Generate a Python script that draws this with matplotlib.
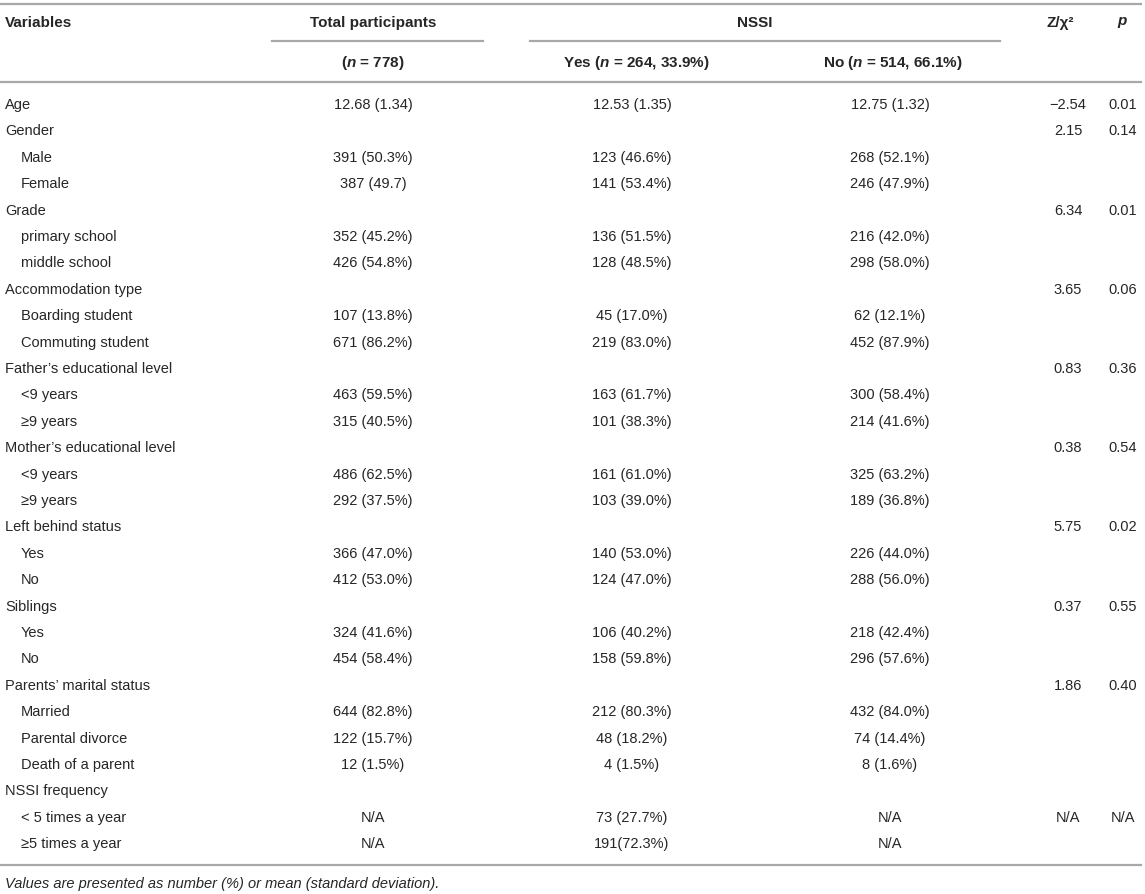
import matplotlib.pyplot as plt

plt.rcParams['font.family'] = ['Liberation Sans', 'DejaVu Sans']
plt.rcParams['mathtext.fontset'] = 'custom'
plt.rcParams['mathtext.it'] = 'Liberation Sans:italic:bold'
plt.rcParams['mathtext.rm'] = 'Liberation Sans:bold'

# table content
labels = ["Age", "Gender", "Male", "Female", "Grade", "primary school", "middle school",
          "Accommodation type", "Boarding student", "Commuting student",
          "Father\u2019s educational level", "<9 years", "\u22659 years",
          "Mother\u2019s educational level", "<9 years", "\u22659 years",
          "Left behind status", "Yes", "No", "Siblings", "Yes", "No",
          "Parents\u2019 marital status", "Married", "Parental divorce", "Death of a parent",
          "NSSI frequency", "< 5 times a year", "\u22655 times a year"]
sub_row = [0, 0, 1, 1, 0, 1, 1, 0, 1, 1, 0, 1, 1, 0, 1, 1, 0, 1, 1, 0, 1, 1, 0, 1, 1, 1, 0, 1, 1]

total = ["12.68 (1.34)", "", "391 (50.3%)", "387 (49.7)", "", "352 (45.2%)", "426 (54.8%)",
         "", "107 (13.8%)", "671 (86.2%)", "", "463 (59.5%)", "315 (40.5%)",
         "", "486 (62.5%)", "292 (37.5%)", "", "366 (47.0%)", "412 (53.0%)",
         "", "324 (41.6%)", "454 (58.4%)", "", "644 (82.8%)", "122 (15.7%)", "12 (1.5%)",
         "", "N/A", "N/A"]
nssi_yes = ["12.53 (1.35)", "", "123 (46.6%)", "141 (53.4%)", "", "136 (51.5%)", "128 (48.5%)",
            "", "45 (17.0%)", "219 (83.0%)", "", "163 (61.7%)", "101 (38.3%)",
            "", "161 (61.0%)", "103 (39.0%)", "", "140 (53.0%)", "124 (47.0%)",
            "", "106 (40.2%)", "158 (59.8%)", "", "212 (80.3%)", "48 (18.2%)", "4 (1.5%)",
            "", "73 (27.7%)", "191(72.3%)"]
nssi_no = ["12.75 (1.32)", "", "268 (52.1%)", "246 (47.9%)", "", "216 (42.0%)", "298 (58.0%)",
           "", "62 (12.1%)", "452 (87.9%)", "", "300 (58.4%)", "214 (41.6%)",
           "", "325 (63.2%)", "189 (36.8%)", "", "226 (44.0%)", "288 (56.0%)",
           "", "218 (42.4%)", "296 (57.6%)", "", "432 (84.0%)", "74 (14.4%)", "8 (1.6%)",
           "", "N/A", "N/A"]
z_chi = ["\u22122.54", "2.15", "", "", "6.34", "", "", "3.65", "", "", "0.83", "", "",
         "0.38", "", "", "5.75", "", "", "0.37", "", "", "1.86", "", "", "", "", "N/A", ""]
p_val = ["0.01", "0.14", "", "", "0.01", "", "", "0.06", "", "", "0.36", "", "",
         "0.54", "", "", "0.02", "", "", "0.55", "", "", "0.40", "", "", "", "", "N/A", ""]

footnote = "Values are presented as number (%) or mean (standard deviation)."

# ---------------------------------------------------------------------------
W, H = 1145, 894
fig = plt.figure(figsize=(W / 100, H / 100), dpi=100)
ax = fig.add_axes([0, 0, 1, 1])
ax.set_xlim(0, W)
ax.set_ylim(H, 0)
ax.axis('off')

txt_color = '#262626'
line_color = '#a8a8a8'
fs = 10.5
fs_hdr = 11

# column centres
col_x = [373, 632, 890, 1068, 1123]

# rules
ax.plot([0, 1141], [4, 4], color=line_color, lw=1.6)
ax.plot([272, 483], [41, 41], color=line_color, lw=1.6)
ax.plot([530, 1000], [41, 41], color=line_color, lw=1.6)
ax.plot([0, 1141], [82, 82], color=line_color, lw=1.6)
ax.plot([0, 1141], [865, 865], color=line_color, lw=1.6)

# header
hdr = dict(fontsize=fs_hdr, fontweight='bold', color=txt_color, va='center')
ax.text(5, 23, "Variables", ha='left', **hdr)
ax.text(col_x[0], 23, "Total participants", ha='center', **hdr)
ax.text(755, 23, "NSSI", ha='center', **hdr)
ax.text(1060, 23, "Z/\u03c7\u00b2", ha='center', **hdr)
ax.text(col_x[4], 23, "$p$", ha='center', **hdr)
ax.text(col_x[0], 63, "($n$ = 778)", ha='center', **hdr)
ax.text(636, 63, "Yes ($n$ = 264, 33.9%)", ha='center', **hdr)
ax.text(893, 63, "No ($n$ = 514, 66.1%)", ha='center', **hdr)

# body
body = dict(fontsize=fs, color=txt_color, va='center')
for i, lab in enumerate(labels):
    y = 105 + 26.4 * i
    ax.text(5 + 16 * sub_row[i], y, lab, ha='left', **body)
    for cx, col in zip(col_x, [total, nssi_yes, nssi_no, z_chi, p_val]):
        if col[i]:
            ax.text(cx, y, col[i], ha='center', **body)

ax.text(5, 884, footnote, ha='left', fontsize=fs, style='italic', color=txt_color, va='center')

fig.savefig('out.png', dpi=100)
